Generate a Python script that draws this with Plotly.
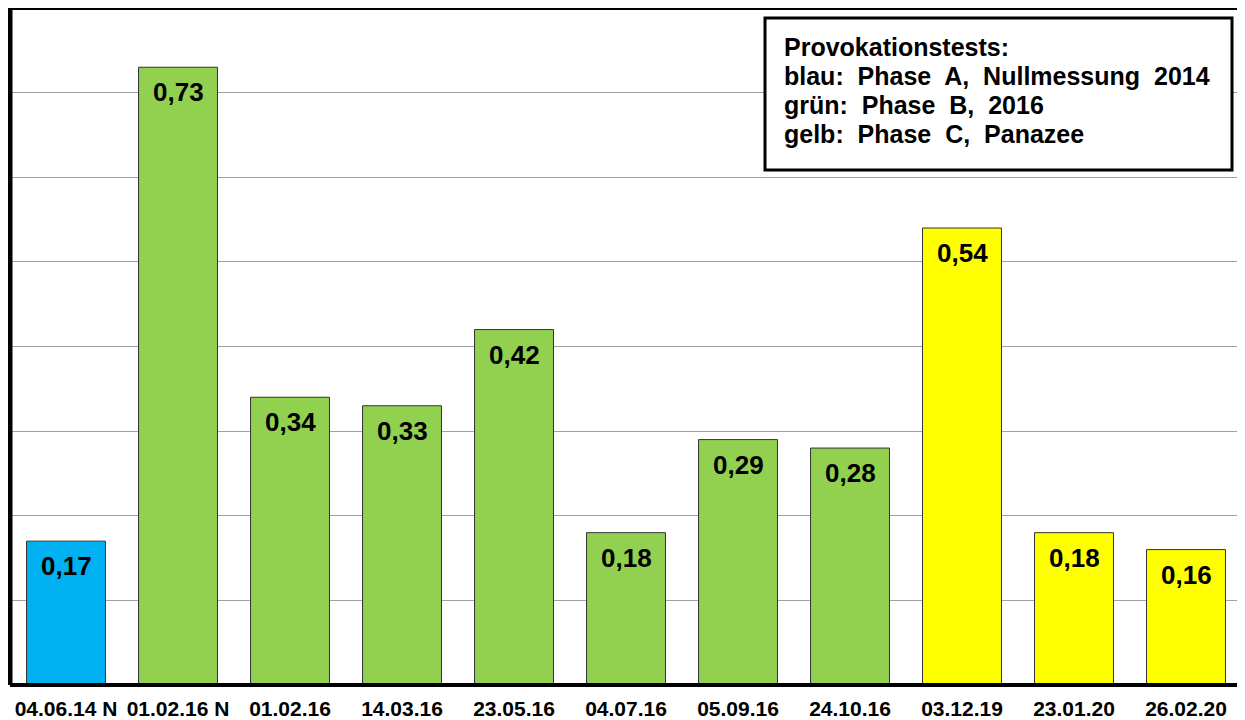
import plotly.graph_objects as go

categories = ["04.06.14 N", "01.02.16 N", "01.02.16", "14.03.16", "23.05.16",
              "04.07.16", "05.09.16", "24.10.16", "03.12.19", "23.01.20", "26.02.20"]
values = [0.17, 0.73, 0.34, 0.33, 0.42, 0.18, 0.29, 0.28, 0.54, 0.18, 0.16]
phases = ["A", "B", "B", "B", "B", "B", "B", "B", "C", "C", "C"]
phase_colors = {"A": "#00B0F0", "B": "#92D050", "C": "#FFFF00"}
legend_lines = ["Provokationstests:", "blau:  Phase  A,  Nullmessung  2014",
                "grün:  Phase  B,  2016", "gelb:  Phase  C,  Panazee"]

labels = [f"{v:.2f}".replace(".", ",") for v in values]
colors = [phase_colors[p] for p in phases]

FONT = "Liberation Sans, Arial"

fig = go.Figure()
fig.add_trace(go.Bar(
    x=categories, y=values,
    marker=dict(color=colors, line=dict(color="#333333", width=1)),
    showlegend=False, hoverinfo="skip",
))

for c, v, t in zip(categories, values, labels):
    fig.add_annotation(x=c, y=v, text=f"<b>{t}</b>", showarrow=False,
                       yshift=-25, font=dict(family=FONT, size=26, color="black"))

# legend box
H = 677.0
W = 1232.0
def py(p):
    return 1 - (p - 8) / H
def px(p):
    return (p - 10) / W

fig.add_shape(type="rect", xref="paper", yref="paper",
              x0=px(765), x1=px(1232), y0=py(170), y1=py(18),
              line=dict(color="black", width=3), fillcolor="white", layer="above")
for i, line in enumerate(legend_lines):
    fig.add_annotation(xref="paper", yref="paper", x=px(782), y=py(47 + 29 * i),
                       xanchor="left", yanchor="middle", text=f"<b>{line}</b>",
                       showarrow=False, font=dict(family=FONT, size=25, color="black"))

# frame
fig.add_shape(type="line", xref="paper", yref="paper", x0=1, x1=1, y0=0, y1=1,
              line=dict(color="#999999", width=1))
fig.add_shape(type="line", xref="paper", yref="paper", x0=0, x1=0, y0=0, y1=1,
              line=dict(color="black", width=5))
fig.add_shape(type="line", xref="paper", yref="paper", x0=0, x1=1, y0=1, y1=1,
              line=dict(color="black", width=4))
fig.add_shape(type="line", xref="paper", yref="paper", x0=0, x1=1, y0=0, y1=0,
              line=dict(color="black", width=4))

fig.update_layout(
    width=1237, height=712,
    margin=dict(l=2, r=3, t=0, b=35),
    paper_bgcolor="white", plot_bgcolor="white",
    bargap=0.295,
    xaxis=dict(showgrid=False, ticks="", ticklabelstandoff=9,
               tickfont=dict(family=FONT, size=21, color="black"),
               tickprefix="<b>", ticksuffix="</b>"),
    yaxis=dict(range=[0, 0.8], dtick=0.1, showgrid=True, gridcolor="#A0A0A0", gridwidth=1,
               showticklabels=False, zeroline=False),
    font=dict(family=FONT),
)

fig.write_html("out.html")
